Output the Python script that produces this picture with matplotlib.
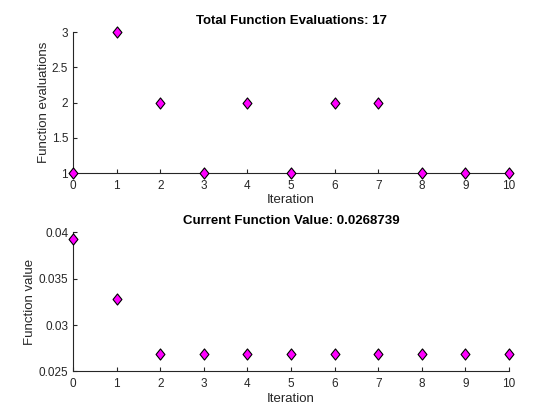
import matplotlib
matplotlib.use('Agg')
import matplotlib.pyplot as plt
from matplotlib.path import Path
import numpy as np

iters = [0, 1, 2, 3, 4, 5, 6, 7, 8, 9, 10]
fevals = [1, 3, 2, 1, 2, 1, 2, 2, 1, 1, 1]
fvals = [0.0392, 0.0328, 0.02687, 0.02687, 0.02687, 0.02687,
         0.02687, 0.02687, 0.02687, 0.02687, 0.0268739]

plt.rcParams['font.family'] = ['Liberation Sans', 'DejaVu Sans']
plt.rcParams['font.size'] = 9.5
axcol = '#262626'

# MATLAB-ish diamond, a bit taller than wide
diamond = Path([(0, 1), (0.8, 0), (0, -1), (-0.8, 0), (0, 1)],
               [Path.MOVETO, Path.LINETO, Path.LINETO, Path.LINETO, Path.CLOSEPOLY])

fig = plt.figure(figsize=(5.6, 4.2), dpi=100)
ax1 = fig.add_axes([0.1304, 0.588, 0.7786, 0.3357])
ax2 = fig.add_axes([0.1304, 0.1155, 0.7786, 0.332])

def style(ax):
    ax.spines['top'].set_visible(False)
    ax.spines['right'].set_visible(False)
    for s in ['left', 'bottom']:
        ax.spines[s].set_color(axcol)
        ax.spines[s].set_linewidth(0.8)
    ax.tick_params(direction='in', length=3, colors=axcol, labelsize=8.5)
    ax.tick_params(axis='x', pad=5)
    ax.tick_params(axis='y', pad=3.5)
    ax.set_xlim(0, 10)
    ax.set_xticks(iters)
    ax.set_xlabel('Iteration', color=axcol, labelpad=1.5)

ax1.plot(iters, fevals, marker=diamond, linestyle='none', color='magenta',
         markeredgecolor='black', markersize=8, markeredgewidth=0.8,
         clip_on=False, zorder=5)
style(ax1)
ax1.set_ylim(1, 3)
ax1.set_yticks([1, 1.5, 2, 2.5, 3])
ax1.set_yticklabels(['1', '1.5', '2', '2.5', '3'])
ax1.set_ylabel('Function evaluations', color=axcol, labelpad=1)
ax1.set_title('Total Function Evaluations: %d' % sum(fevals),
              fontweight='bold', fontsize=9.5, pad=6)

ax2.plot(iters, fvals, marker=diamond, linestyle='none', color='magenta',
         markeredgecolor='black', markersize=8, markeredgewidth=0.8,
         clip_on=False, zorder=5)
style(ax2)
ax2.set_ylim(0.025, 0.04)
ax2.set_yticks([0.025, 0.03, 0.035, 0.04])
ax2.set_yticklabels(['0.025', '0.03', '0.035', '0.04'])
ax2.set_ylabel('Function value', color=axcol, labelpad=1.5)
ax2.set_title('Current Function Value: %g' % fvals[-1],
              fontweight='bold', fontsize=9.5, pad=6)

fig.savefig('out.png', dpi=100)
